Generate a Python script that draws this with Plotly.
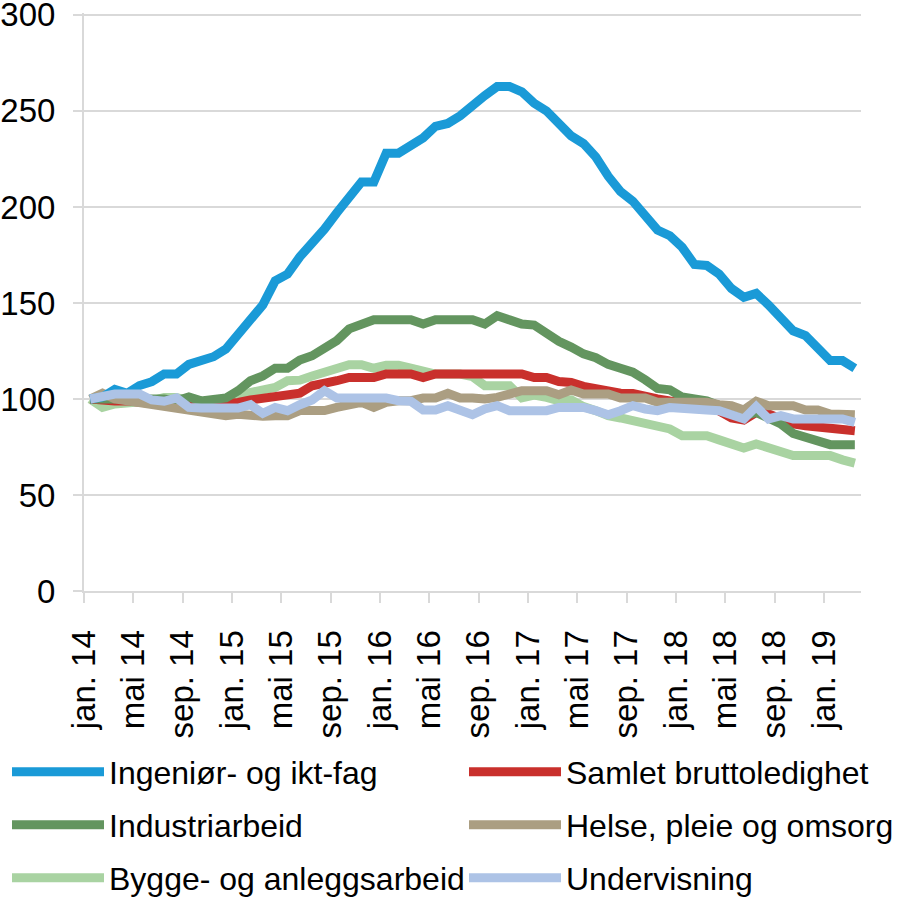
import plotly.graph_objects as go

# Monthly index values, jan. 2014 - mar. 2019 (jan. 2014 = 100)
months = [f"{m} {y}" for y in range(14, 20) for m in
          ["jan.", "feb.", "mar.", "apr.", "mai", "jun.", "jul.", "aug.", "sep.", "okt.", "nov.", "des."]][:63]

tick_labels = ["jan. 14", "mai 14", "sep. 14", "jan. 15", "mai 15", "sep. 15", "jan. 16", "mai 16",
               "sep. 16", "jan. 17", "mai 17", "sep. 17", "jan. 18", "mai 18", "sep. 18", "jan. 19"]

ingenior = [100, 101, 105, 103, 107, 109, 113, 113, 118, 120,
            122, 126, 134, 142.5, 149, 161.5, 165, 174, 180.5, 188.5,
            197, 206, 213, 213, 228, 228, 232, 236, 242, 243.5,
            247.5, 253.5, 258, 262.7, 262.7, 260, 254, 250, 243.5, 237,
            233, 226, 216, 208, 203, 195, 188, 185, 179, 170,
            169.5, 165, 157.5, 153, 155, 149, 142.5, 135.5, 133, 126.5,
            120, 120, 116]

samlet = [100, 99, 99, 99, 98, 97.7, 97.7, 97.7, 97.7, 97.7,
          97.7, 97.7, 98.2, 99.5, 100.5, 101, 102, 103, 106.9, 107.8,
          109.5, 111.2, 111.2, 111.2, 113, 113, 113, 111.2, 113, 113,
          113, 113, 113, 113, 113, 113, 111.2, 111.2, 109.1, 108.6,
          106.6, 105, 103.4, 103, 102.8, 101, 100, 99, 99, 98.5,
          97.4, 93.9, 90.1, 89, 93, 92.2, 89.6, 87, 86.1, 85.6,
          84.9, 84.9, 83.5]

industri = [100, 100, 101, 101, 101, 101, 100, 99, 101, 99,
            100, 100.5, 104.3, 109.5, 112, 116, 116, 120.3, 122.5, 126,
            130.4, 136.5, 139, 141.3, 141.3, 141.3, 141.3, 139, 141.3, 141.3,
            141.3, 141.3, 139, 143.3, 141.2, 139, 138.5, 134, 130, 127,
            123.5, 121.5, 118, 116, 114, 110, 105.5, 104.8, 101, 100,
            99, 96.5, 94, 91.3, 93, 89.6, 87, 82, 80, 78,
            76.2, 76.2, 76.2]

helse = [100, 103, 100, 99, 99, 98, 96, 96, 94, 93,
         92, 91.3, 92, 91, 91, 91.3, 91.3, 94, 94, 94,
         95.6, 96.5, 98.3, 95.6, 98.3, 99.1, 99.1, 100.5, 100.5, 103,
         100.5, 100.5, 100, 100.8, 102.6, 104.3, 104.3, 104.3, 102.2, 104.7,
         102.6, 102.6, 102.6, 100.5, 100.5, 100.5, 98.3, 98.3, 98.3, 98.3,
         98.3, 97, 96.5, 94.3, 98.8, 96.5, 96.5, 96.5, 94.3, 94.3,
         92.2, 92.2, 91.8]

bygge = [100, 95.6, 97.4, 97.8, 98.3, 99, 100.8, 100.8, 99, 98.3,
         98.3, 98.2, 100, 103.4, 104.6, 106, 109.5, 109.8, 112, 114.2,
         116, 117.8, 117.8, 116, 117.5, 117.5, 116, 114.4, 113, 113,
         113, 111.6, 106.9, 106.9, 106.9, 100.6, 102, 100.8, 99.1, 99.5,
         96, 93.9, 91.3, 90.1, 88.7, 86.8, 85, 84.4, 80.9, 80.9,
         80.9, 78.7, 76.6, 74.5, 76.6, 74.5, 72.3, 70.5, 70.5, 70.5,
         70.5, 68.3, 66.6]

undervisning = [100, 101.2, 102.6, 102.6, 102.6, 99.5, 98.8, 100.5, 95.6, 95.3,
                95.3, 95.3, 95.3, 97, 92.5, 95.6, 93.9, 97, 99.5, 104.3,
                100.5, 100.5, 100.5, 100.5, 100.5, 99.1, 98.8, 94.3, 94.3, 96.5,
                93.6, 91.8, 94.8, 96.5, 93.9, 93.9, 93.9, 93.9, 95.6, 95.6,
                95.6, 93.9, 91.8, 93.9, 96.5, 94.8, 93.9, 95.6, 94.8, 94.3,
                94.3, 93.9, 91.8, 89.6, 96, 89.6, 91.3, 89.6, 89.6, 89.6,
                89.6, 89.6, 87.8]

x = list(range(len(months)))
tick_pos = [4 * k - 0.5 for k in range(len(tick_labels))]
y_ticks = [0, 50, 100, 150, 200, 250, 300]

FONT = "Liberation Sans"
GRID = "#d9d9d9"
W, H = 899, 897

# (name, values, colour, legend id, legend column, legend row) in drawing order (bottom -> top)
series = [
    ("Bygge- og anleggsarbeid", bygge, "#a9d3a2", "legend5", 0, 2),
    ("Samlet bruttoledighet", samlet, "#c9302c", "legend2", 1, 0),
    ("Industriarbeid", industri, "#63955f", "legend3", 0, 1),
    ("Helse, pleie og omsorg", helse, "#ab9e82", "legend4", 1, 1),
    ("Ingeniør- og ikt-fag", ingenior, "#1a9ad7", "legend", 0, 0),
    ("Undervisning", undervisning, "#adc3e6", "legend6", 1, 2),
]

fig = go.Figure()
for name, vals, col, leg, c, r in series:
    fig.add_trace(go.Scatter(
        x=x, y=vals, name=name, mode="lines",
        line=dict(color=col, width=9),
        legend=leg,
        hovertext=months, hoverinfo="text+y",
    ))

# target positions in window pixels
plot_left, plot_right = 83.5, 861.0
y300, y0 = 14.5, 591.0
ymax = 301.0
plot_top = y0 - (y0 - y300) * ymax / 300.0
plot_bottom = y0

col_x = [7, 464]
row_y = [772, 825, 878]

legends = {}
for name, vals, col, leg, c, r in series:
    legends[leg] = dict(
        xref="container", yref="container",
        x=col_x[c] / W, y=1 - row_y[r] / H, xanchor="left", yanchor="middle",
        font=dict(family=FONT, size=32, color="black"),
        itemwidth=92, bgcolor="rgba(0,0,0,0)", borderwidth=0,
    )

fig.update_layout(
    width=W, height=H,
    margin=dict(l=plot_left, r=W - plot_right, t=plot_top, b=H - plot_bottom, pad=0,
                autoexpand=False),
    paper_bgcolor="white", plot_bgcolor="white",
    font=dict(family=FONT, size=33, color="black"),
    showlegend=True,
    **legends,
    xaxis=dict(
        range=[-0.5, len(months) - 0.5],
        tickmode="array", tickvals=tick_pos, ticktext=tick_labels,
        tickangle=-90, ticks="outside", ticklen=10, tickwidth=2, tickcolor=GRID,
        showgrid=False, showline=True, linecolor=GRID, linewidth=2,
        zeroline=False, ticklabelstandoff=14, ticklabeloverflow="allow",
        tickfont=dict(family=FONT, size=33, color="black"),
    ),
    yaxis=dict(
        range=[0, ymax], tickmode="array", tickvals=y_ticks,
        ticktext=[str(v) for v in y_ticks],
        showgrid=True, gridcolor=GRID, gridwidth=2,
        showline=True, linecolor=GRID, linewidth=2,
        ticks="outside", ticklen=9, tickwidth=2, tickcolor=GRID,
        zeroline=False, ticklabelstandoff=11, ticklabeloverflow="allow",
        tickfont=dict(family=FONT, size=33, color="black"),
    ),
)

fig.write_html("out.html", config={"displayModeBar": False},
               post_script="document.body.style.margin='0px';")
